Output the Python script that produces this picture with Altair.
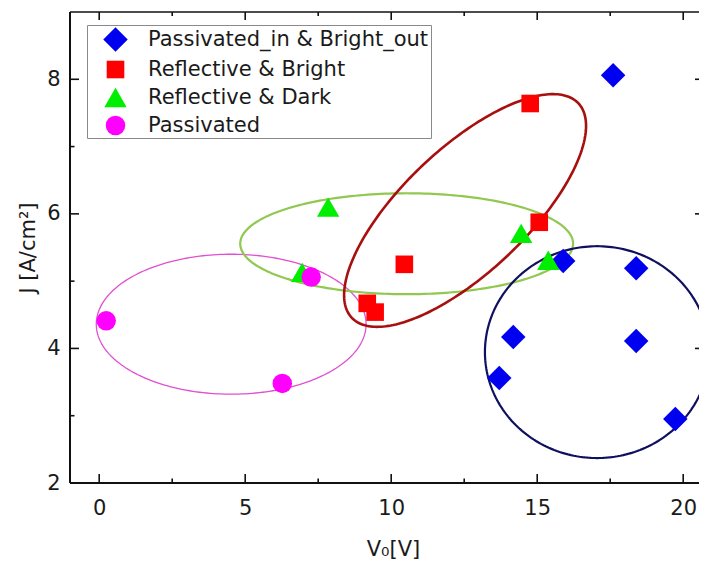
import altair as alt
import numpy as np
import pandas as pd

# ---- data ----
categories = ["Passivated_in & Bright_out", "Reflective & Bright", "Reflective & Dark", "Passivated"]

pib_x = [17.60, 15.89, 18.39, 14.18, 18.39, 13.70, 19.73]
pib_y = [8.06, 5.30, 5.19, 4.17, 4.11, 3.56, 2.95]

rb_x = [14.76, 15.07, 10.45, 9.18, 9.45]
rb_y = [7.64, 5.875, 5.25, 4.67, 4.54]

rd_x = [7.84, 6.95, 14.45, 15.38]
rd_y = [6.10, 5.13, 5.71, 5.31]

pas_x = [0.24, 6.27, 7.26]
pas_y = [4.41, 3.48, 5.06]

# ellipses: centre, two conjugate half-axis vectors (data units)
ell_cx = [4.52, 10.53, 12.53, 17.05]
ell_cy = [4.36, 5.556, 6.05, 3.945]
ell_ux = [4.62, 5.70, 3.877, 3.84]
ell_uy = [0.0, 0.0, 1.595, 0.0]
ell_vx = [0.0, 0.0, 1.461, 0.0]
ell_vy = [1.04, 0.75, -0.668, 1.574]
ell_color = ["#E050D0", "#90C850", "#A81010", "#101060"]
ell_width = [1.3, 2.2, 2.6, 2.2]

x_major = [0, 5, 10, 15, 20]
x_minor = [2.5, 7.5, 12.5, 17.5]
y_major = [2, 4, 6, 8]
y_minor = [3, 5, 7]

marker_colors = ["#0000F0", "#FF0000", "#00EE00", "#FF00FF"]
marker_shapes = ["diamond", "square", "triangle-up", "circle"]
marker_sizes = [600, 310, 500, 380]

# ---- build tables ----
rows = []
for cat, xs, ys in zip(categories, [pib_x, rb_x, rd_x, pas_x], [pib_y, rb_y, rd_y, pas_y]):
    for a, b in zip(xs, ys):
        rows.append({"x": a, "y": b, "cat": cat})
pts = pd.DataFrame(rows)

W, H = 629, 471
FONT = "DejaVu Sans"

xscale = alt.Scale(domain=[-1, -1 + W / 29.2], nice=False, zero=False)
yscale = alt.Scale(domain=[2, 9], nice=False, zero=False)

xaxis = alt.Axis(values=x_major, title="V\u2080[V]", domain=False, ticks=False, tickSize=0,
                 grid=False, labelFont=FONT, labelFontSize=21, labelColor="#1a1a1a",
                 labelPadding=14, titleFont=FONT, titleFontSize=21, titleFontWeight="normal",
                 titleColor="#1a1a1a", titleX=323, titleY=72, titleBaseline="alphabetic",
                 titleAlign="center")
yaxis = alt.Axis(values=y_major, title="J [A/cm\u00b2]", domain=False, ticks=False, tickSize=0,
                 grid=False, labelFont=FONT, labelFontSize=21, labelColor="#1a1a1a",
                 labelPadding=10, titleFont=FONT, titleFontSize=21, titleFontWeight="normal",
                 titleColor="#1a1a1a", titleX=-36, titleY=H / 2, titleBaseline="alphabetic",
                 titleAlign="center", titleAngle=270)

X = alt.X("x:Q", scale=xscale, axis=xaxis)
Y = alt.Y("y:Q", scale=yscale, axis=yaxis)

layers = []

# ellipses
t = np.linspace(0, 2 * np.pi, 241)
for i in range(4):
    ex = ell_cx[i] + ell_ux[i] * np.cos(t) + ell_vx[i] * np.sin(t)
    ey = ell_cy[i] + ell_uy[i] * np.cos(t) + ell_vy[i] * np.sin(t)
    df = pd.DataFrame({"x": ex, "y": ey, "i": np.arange(len(t))})
    layers.append(
        alt.Chart(df).mark_line(color=ell_color[i], strokeWidth=ell_width[i], clip=True)
        .encode(x=X, y=Y, order=alt.Order("i:Q"))
    )

# points
layers.append(
    alt.Chart(pts).mark_point(filled=True, opacity=1, strokeWidth=0).encode(
        x=X, y=Y,
        color=alt.Color("cat:N", scale=alt.Scale(domain=categories, range=marker_colors),
                        legend=alt.Legend(title=None, orient="none", legendX=17, legendY=13,
                                          labelFont=FONT, labelFontSize=21, labelColor="#1a1a1a",
                                          padding=2, rowPadding=6, symbolOffset=14, labelOffset=20,
                                          strokeColor="#8a8a8a", fillColor="white",
                                          labelLimit=400, symbolStrokeWidth=0)),
        shape=alt.Shape("cat:N", scale=alt.Scale(domain=categories, range=marker_shapes)),
        size=alt.Size("cat:N", scale=alt.Scale(type="ordinal", domain=categories, range=marker_sizes)),
    )
)

black = "#111111"
one = pd.DataFrame({"x": [0.0]})

# frame lines (left, bottom, top); right side is cut off in the picture
layers.append(alt.Chart(one).mark_rule(color=black, strokeWidth=2).encode(
    x=alt.value(0), y=alt.value(0), y2=alt.value(H)))
layers.append(alt.Chart(one).mark_rule(color=black, strokeWidth=2).encode(
    x=alt.value(0), x2=alt.value(W), y=alt.value(H)))
layers.append(alt.Chart(one).mark_rule(color=black, strokeWidth=1.6).encode(
    x=alt.value(0), x2=alt.value(W), y=alt.value(0)))

# inward ticks
dxM = pd.DataFrame({"x": x_major})
dxm = pd.DataFrame({"x": x_minor})
dyM = pd.DataFrame({"y": y_major})
dym = pd.DataFrame({"y": y_minor})
layers.append(alt.Chart(dxM).mark_rule(color=black, strokeWidth=1.6).encode(
    x=X, y=alt.value(H), y2=alt.value(H - 9)))
layers.append(alt.Chart(dxm).mark_rule(color=black, strokeWidth=1.6).encode(
    x=X, y=alt.value(H), y2=alt.value(H - 4.5)))
layers.append(alt.Chart(dxM).mark_rule(color=black, strokeWidth=1.6).encode(
    x=X, y=alt.value(0), y2=alt.value(8)))
layers.append(alt.Chart(dxm).mark_rule(color=black, strokeWidth=1.6).encode(
    x=X, y=alt.value(0), y2=alt.value(4)))
layers.append(alt.Chart(dyM).mark_rule(color=black, strokeWidth=1.6).encode(
    y=Y, x=alt.value(0), x2=alt.value(9)))
layers.append(alt.Chart(dym).mark_rule(color=black, strokeWidth=1.6).encode(
    y=Y, x=alt.value(0), x2=alt.value(4.5)))
layers.append(alt.Chart(dyM).mark_rule(color=black, strokeWidth=1.6).encode(
    y=Y, x=alt.value(W - 4), x2=alt.value(W)))

chart = alt.layer(*layers).properties(
    width=W, height=H,
    autosize=alt.AutoSizeParams(type="none"),
    padding={"left": 62, "top": 4, "right": 0, "bottom": 81},
    background="white",
).configure_view(stroke=None)

chart.save("out.html", embed_options={"renderer": "svg", "actions": False})
